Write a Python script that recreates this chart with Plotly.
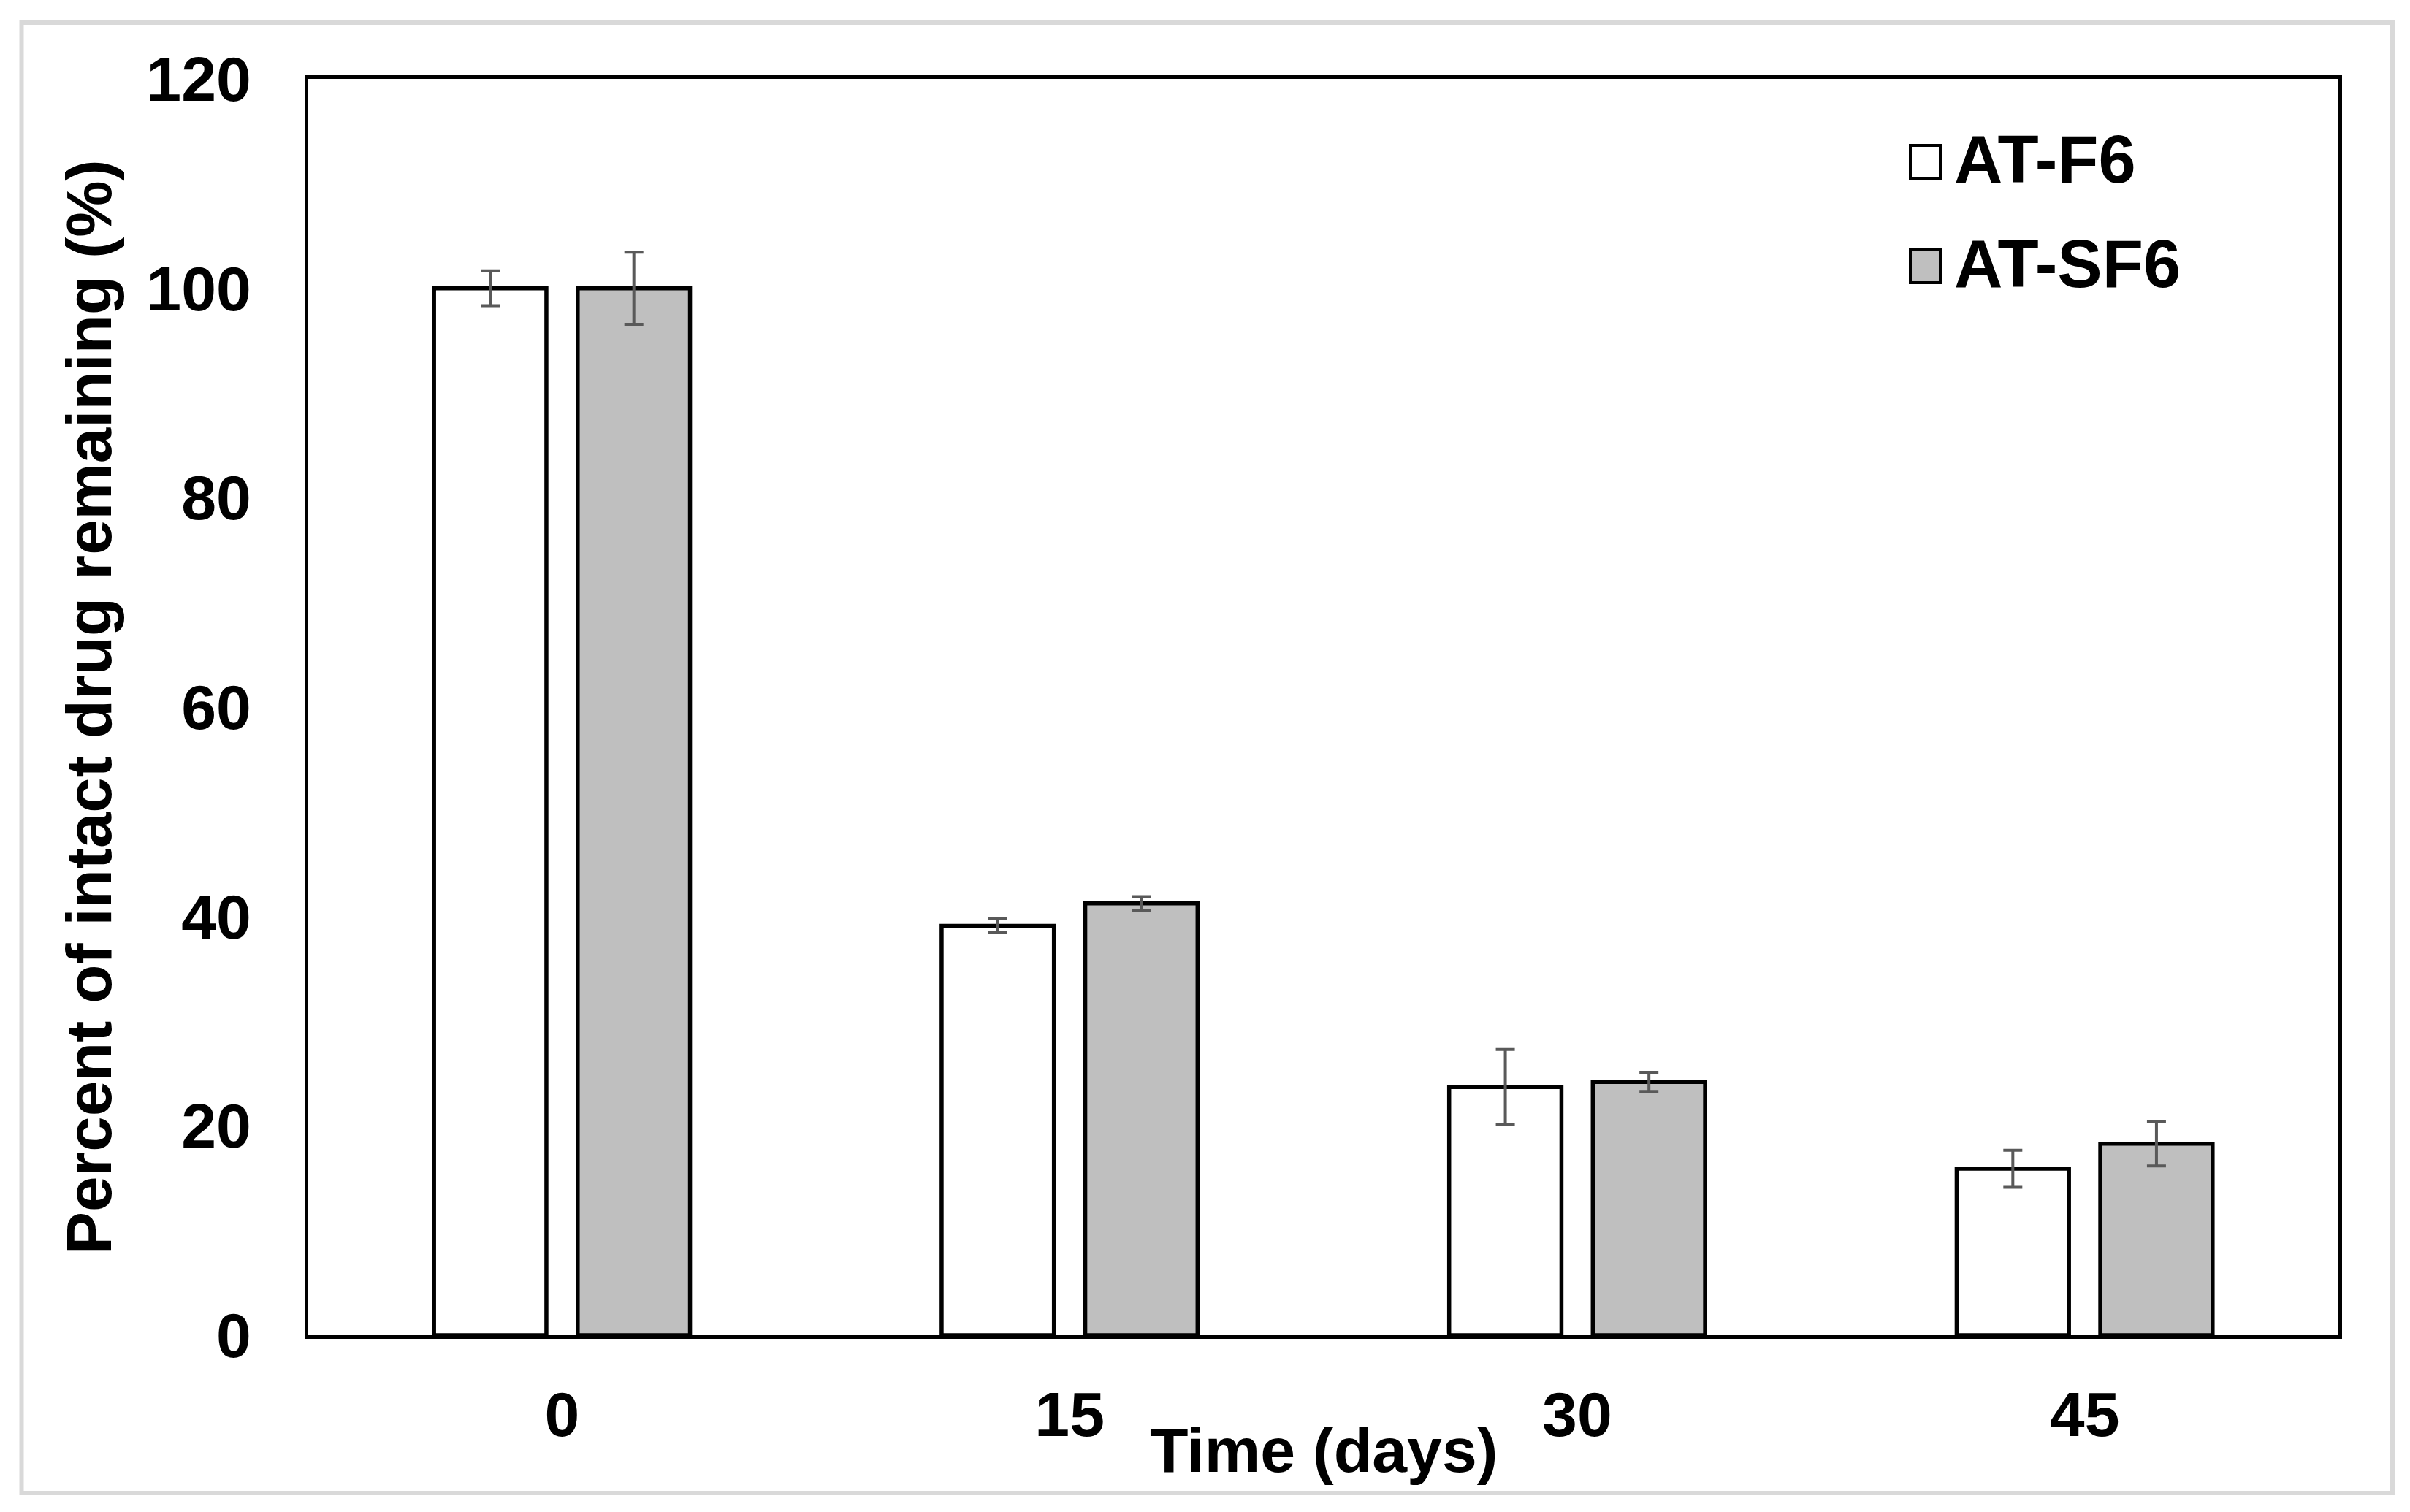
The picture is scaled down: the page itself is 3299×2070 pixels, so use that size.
import plotly.graph_objects as go

days = ["0", "15", "30", "45"]
at_f6 = [100.0, 39.1, 23.7, 15.9]
at_f6_err = [1.67, 0.66, 3.6, 1.77]
at_sf6 = [100.0, 41.25, 24.2, 18.3]
at_sf6_err = [3.45, 0.65, 0.92, 2.14]
series_names = ["AT-F6", "AT-SF6"]
y_ticks = [0, 20, 40, 60, 80, 100, 120]

FONT = "Liberation Sans, Arial, sans-serif"
ERR_COLOR = "#595959"
FILLS = ["#ffffff", "#bfbfbf"]

fig = go.Figure()
for name, vals, errs, fill in [
    (series_names[0], at_f6, at_f6_err, FILLS[0]),
    (series_names[1], at_sf6, at_sf6_err, FILLS[1]),
]:
    fig.add_trace(go.Bar(
        x=days, y=vals, name=name,
        marker=dict(color=fill, line=dict(color="black", width=5.5)),
        error_y=dict(type="data", array=errs, visible=True,
                     color=ERR_COLOR, thickness=4, width=13),
        showlegend=False,
    ))

OFF = 8  # default page body margin
W, H = 3299 - OFF, 2070 - OFF
L, R, T, B = 422 - OFF, 98, 108 - OFF, 242
pw, ph = W - L - R, H - T - B

def px(x):  # page pixel -> paper
    return (x - OFF - L) / pw

def py(y):
    return (H - B - (y - OFF)) / ph

shapes = [
    dict(type="rect", xref="paper", yref="paper",
         x0=px(29.5), x1=px(3275), y0=py(2044), y1=py(31),
         line=dict(color="#d9d9d9", width=6), fillcolor="rgba(0,0,0,0)", layer="below"),
]
annotations = []
leg_y = [221.5, 364.5]
for i, name in enumerate(series_names):
    cy = leg_y[i]
    shapes.append(dict(type="rect", xref="paper", yref="paper",
                       x0=px(2615), x1=px(2656), y0=py(cy + 22.5), y1=py(cy - 22.5),
                       line=dict(color="black", width=4), fillcolor=FILLS[i]))
    annotations.append(dict(text=name, xref="paper", yref="paper",
                            x=px(2673), y=py(cy - 4), xanchor="left", yanchor="middle",
                            showarrow=False,
                            font=dict(family=FONT, size=92, color="black", weight="bold")))

annotations.append(dict(text="Time (days)", xref="paper", yref="paper",
                        x=0.5, y=py(1985), xanchor="center", yanchor="middle",
                        showarrow=False,
                        font=dict(family=FONT, size=86, color="black", weight="bold")))
annotations.append(dict(text="Percent of intact drug remaining (%)", xref="paper", yref="paper",
                        x=px(121), y=0.5, xanchor="center", yanchor="middle",
                        textangle=-90, showarrow=False,
                        font=dict(family=FONT, size=87, color="black", weight="bold")))

fig.update_layout(
    width=W, height=H,
    margin=dict(l=L, r=R, t=T, b=B, pad=0),
    paper_bgcolor="white", plot_bgcolor="white",
    barmode="group", bargap=0.434, bargroupgap=0.218,
    shapes=shapes, annotations=annotations,
    xaxis=dict(type="category", showline=True, linecolor="black", linewidth=5, mirror=True,
               showgrid=False, zeroline=False,
               ticks="outside", ticklen=30, tickcolor="rgba(0,0,0,0)",
               tickfont=dict(family=FONT, size=86, color="black", weight="bold")),
    yaxis=dict(range=[0, 120], tickvals=y_ticks, showline=True, linecolor="black",
               linewidth=5, mirror=True, showgrid=False, zeroline=False,
               ticks="outside", ticklen=56, tickcolor="rgba(0,0,0,0)",
               tickfont=dict(family=FONT, size=86, color="black", weight="bold")),
)

fig.write_html("out.html")
